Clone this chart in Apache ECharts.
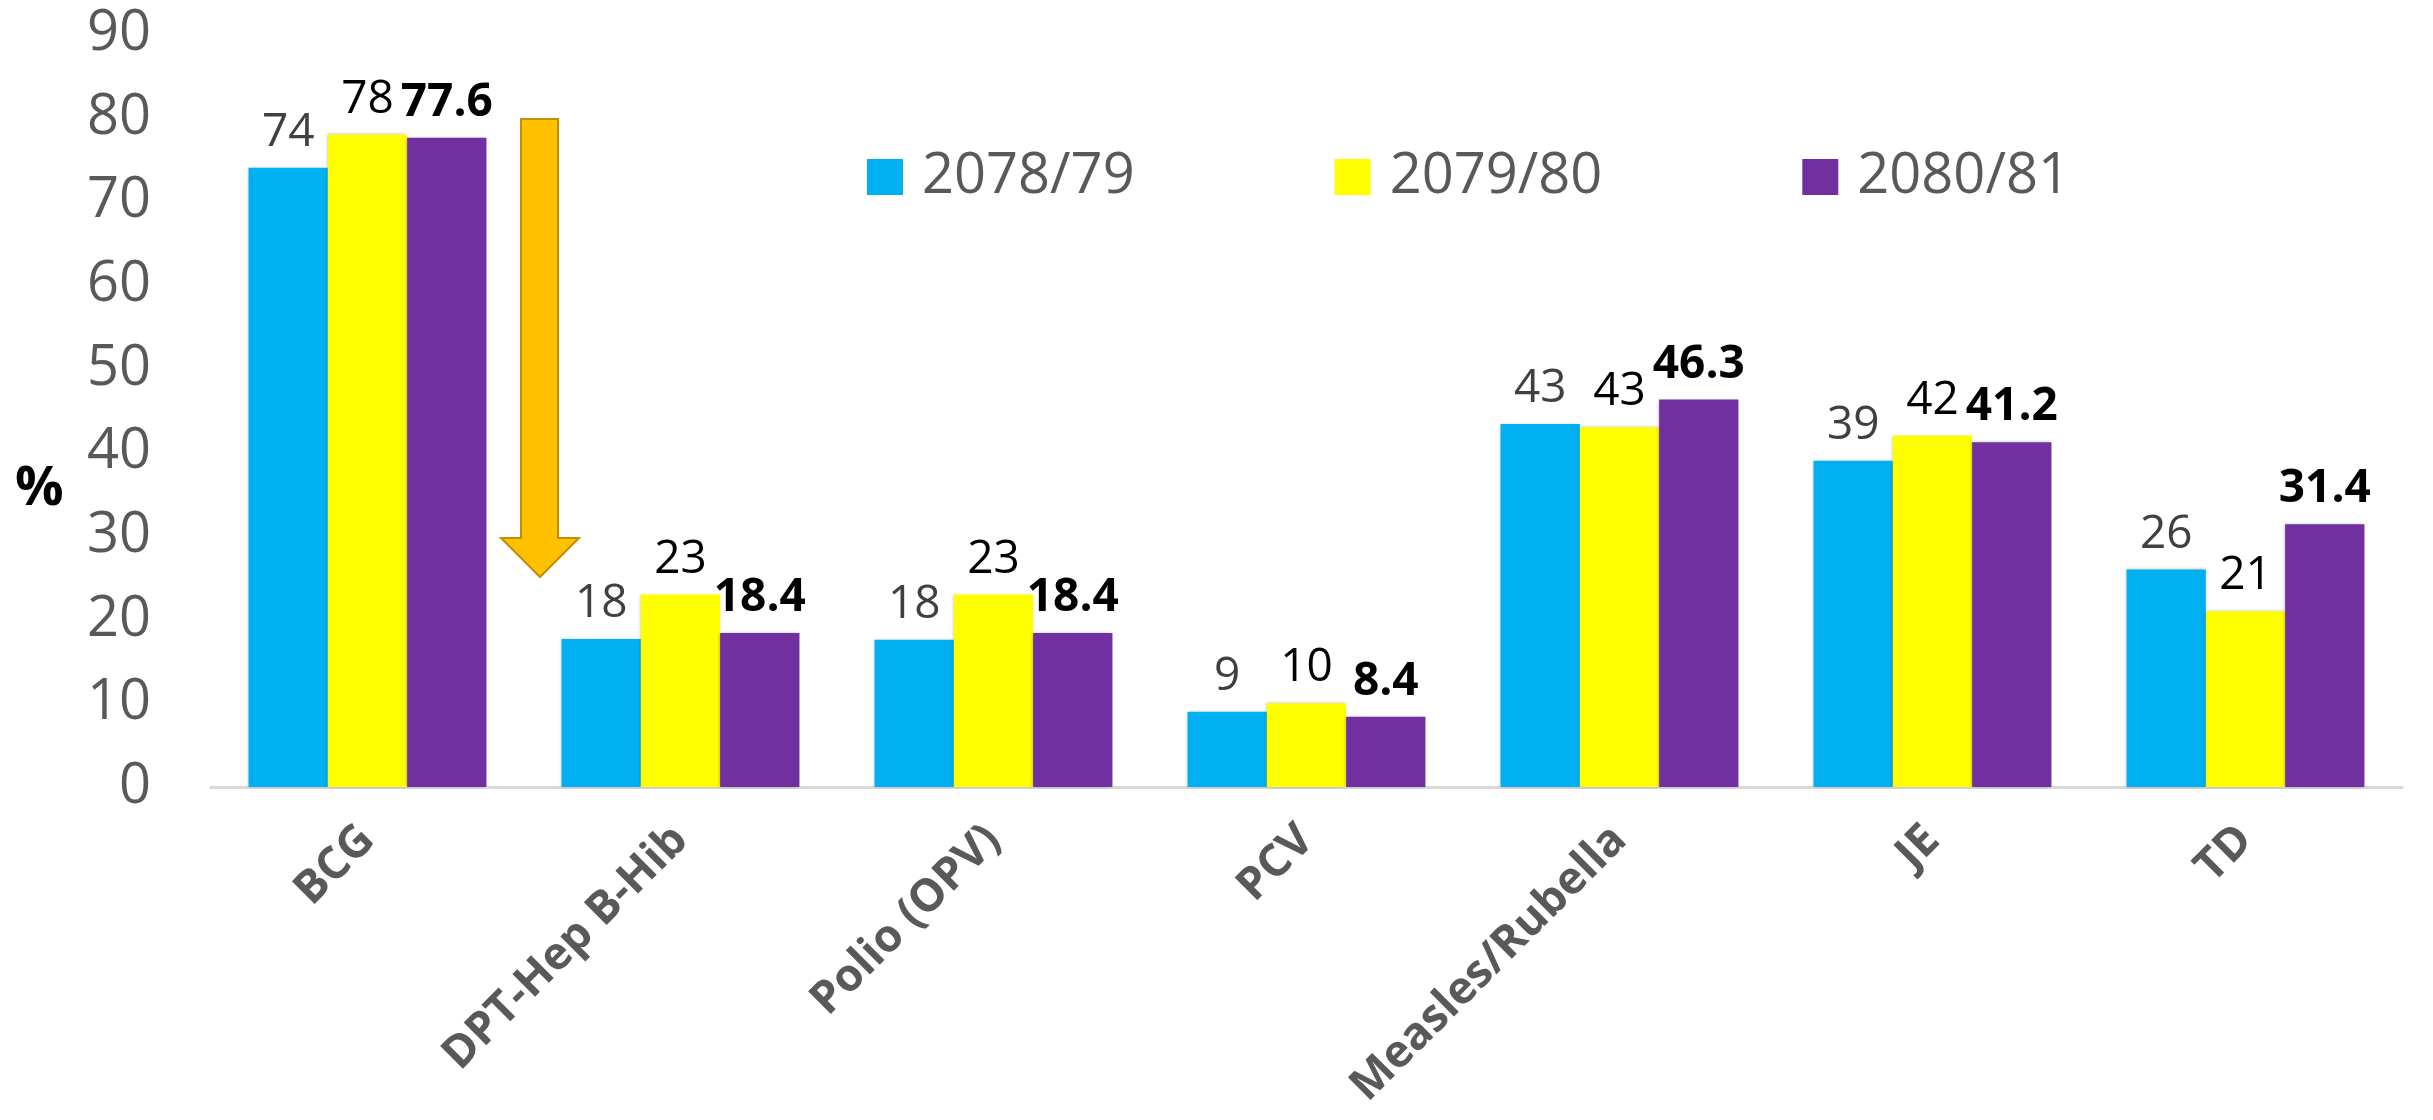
<!DOCTYPE html>
<html>
<head>
<meta charset="utf-8">
<title>Coverage by vaccine</title>
<script src="https://cdn.jsdelivr.net/npm/echarts@6/dist/echarts.min.js"></script>
<style>
  html, body { margin: 0; padding: 0; background: #fff; }
  #chart { width: 2433px; height: 1120px; }
</style>
</head>
<body>
<div id="chart"></div>
<script>
const categories = ["BCG", "DPT-Hep B-Hib", "Polio (OPV)", "PCV", "Measles/Rubella", "JE", "TD"];
const seriesNames = ["2078/79", "2079/80", "2080/81"];
const fy7879 = [74, 17.7, 17.6, 9, 43.4, 39, 26];
const fy7980 = [78, 23, 23, 10, 43, 42, 21];
const fy8081 = [77.6, 18.4, 18.4, 8.4, 46.3, 41.2, 31.4];
const yTicks = [0, 90, 10]; // min, max, interval

const font = "'Open Sans', 'Liberation Sans', sans-serif";

function barSeries(name, data, color, labelColor, bold, rounded) {
  return {
    name: name,
    type: "bar",
    data: data,
    barGap: "0%",
    barCategoryGap: "24%",
    itemStyle: {
      color: color,
      shadowColor: "rgba(0,0,0,0.25)",
      shadowBlur: 3,
      shadowOffsetX: -1
    },
    label: {
      show: true,
      position: "top",
      distance: 12,
      fontFamily: font,
      fontSize: 46,
      fontWeight: bold ? "bold" : "normal",
      color: labelColor,
      formatter: function (p) {
        return rounded ? Math.round(p.value) : p.value;
      }
    }
  };
}

const chart = echarts.init(document.getElementById("chart"));

const option = {
  backgroundColor: "#FFFFFF",
  animation: false,
  textStyle: { fontFamily: font },
  grid: {
    left: 211,
    right: 31,
    top: 34,
    bottom: 333,
    containLabel: false
  },
  legend: {
    data: seriesNames,
    left: 862,
    top: 144,
    icon: "rect",
    itemWidth: 36,
    itemHeight: 36,
    itemGap: 200,
    textStyle: {
      fontFamily: font,
      fontSize: 56,
      lineHeight: 56,
      padding: [0, 0, 0, 14],
      color: "#595959"
    }
  },
  xAxis: {
    type: "category",
    data: categories,
    axisLine: { lineStyle: { color: "#D9D9D9", width: 3 } },
    axisTick: { show: false },
    axisLabel: {
      rotate: 45,
      margin: 46,
      interval: 0,
      fontFamily: font,
      fontSize: 45,
      fontWeight: "bold",
      color: "#595959"
    }
  },
  yAxis: {
    type: "value",
    min: yTicks[0],
    max: yTicks[1],
    interval: yTicks[2],
    splitLine: { show: false },
    axisLine: { show: false },
    axisTick: { show: false },
    axisLabel: {
      margin: 60,
      fontFamily: font,
      fontSize: 56,
      color: "#595959"
    }
  },
  graphic: [
    {
      // down arrow between BCG and DPT
      type: "polygon",
      z: 10,
      shape: {
        points: [[521, 119], [558, 119], [558, 538], [579, 538], [540, 577], [501, 538], [521, 538]]
      },
      style: { fill: "#FFC000", stroke: "#BF9000", lineWidth: 2 }
    },
    {
      type: "text",
      left: 15,
      top: 463,
      style: {
        text: "%",
        font: "bold 54px " + font,
        fill: "#000000"
      }
    }
  ],
  series: [
    barSeries(seriesNames[0], fy7879, "#00B0F0", "#404040", false, true),
    barSeries(seriesNames[1], fy7980, "#FFFF00", "#000000", false, true),
    barSeries(seriesNames[2], fy8081, "#7030A0", "#000000", true, false)
  ]
};

chart.setOption(option);
window.addEventListener("resize", function () {
  chart.resize();
});
</script>
</body>
</html>
